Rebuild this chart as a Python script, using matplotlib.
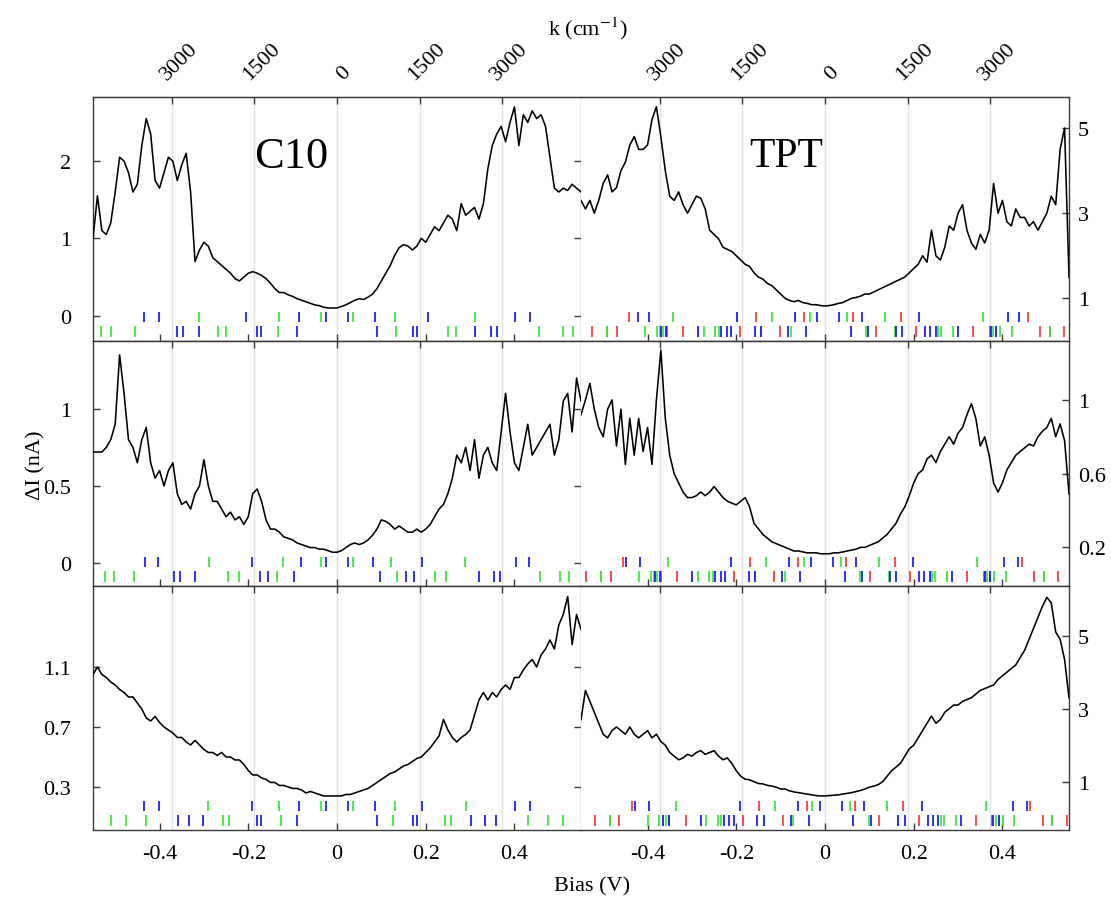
import numpy as np
import matplotlib
matplotlib.use("Agg")
import matplotlib.pyplot as plt
from matplotlib import transforms

plt.rcParams["font.family"] = ["Liberation Serif", "DejaVu Serif"]
plt.rcParams["mathtext.fontset"] = "stix"

# ---------------------------------------------------------------- data
bias = np.round(np.arange(-0.55, 0.5501, 0.01), 2)

c10_top = [
    1.0, 1.55, 1.1, 1.05, 1.2, 1.6, 2.05, 2.0, 1.85, 1.6,
    1.7, 2.2, 2.55, 2.35, 1.75, 1.65, 1.85, 2.05, 2.0, 1.75,
    1.95, 2.1, 1.6, 0.7, 0.85, 0.95, 0.9, 0.75, 0.7, 0.65,
    0.6, 0.55, 0.48, 0.45, 0.5, 0.55, 0.57, 0.55, 0.52, 0.48,
    0.42, 0.35, 0.3, 0.3, 0.27, 0.25, 0.22, 0.2, 0.18, 0.16,
    0.14, 0.13, 0.11, 0.1, 0.1, 0.1, 0.12, 0.14, 0.17, 0.2,
    0.22, 0.21, 0.24, 0.28, 0.35, 0.45, 0.55, 0.65, 0.78, 0.88,
    0.92, 0.9, 0.85, 0.9, 1.0, 0.95, 1.05, 1.15, 1.1, 1.2,
    1.3, 1.25, 1.1, 1.45, 1.3, 1.35, 1.4, 1.25, 1.45, 1.9,
    2.2, 2.35, 2.45, 2.25, 2.5, 2.7, 2.2, 2.6, 2.5, 2.65,
    2.55, 2.6, 2.45, 2.05, 1.65, 1.6, 1.65, 1.62, 1.7, 1.65, 1.6,
]
c10_mid = [
    0.72, 0.72, 0.72, 0.75, 0.8, 0.9, 1.35, 1.1, 0.8, 0.75,
    0.65, 0.8, 0.88, 0.65, 0.55, 0.6, 0.5, 0.6, 0.65, 0.45,
    0.38, 0.4, 0.35, 0.45, 0.5, 0.67, 0.5, 0.4, 0.4, 0.35,
    0.3, 0.33, 0.28, 0.3, 0.25, 0.3, 0.45, 0.48, 0.4, 0.28,
    0.22, 0.22, 0.2, 0.17, 0.16, 0.15, 0.13, 0.12, 0.11, 0.1,
    0.1, 0.09, 0.09, 0.08, 0.07, 0.07, 0.08, 0.1, 0.12, 0.13,
    0.12, 0.13, 0.15, 0.18, 0.22, 0.28, 0.27, 0.25, 0.22, 0.24,
    0.22, 0.2, 0.2, 0.22, 0.2, 0.22, 0.25, 0.3, 0.35, 0.38,
    0.45, 0.55, 0.7, 0.65, 0.75, 0.6, 0.8, 0.55, 0.7, 0.75,
    0.65, 0.6, 0.85, 1.1, 0.85, 0.65, 0.6, 0.75, 0.9, 0.7,
    0.75, 0.8, 0.85, 0.9, 0.7, 0.8, 1.05, 1.1, 0.85, 1.2, 1.05,
]
c10_bot = [
    1.05, 1.1, 1.05, 1.03, 1.0, 0.98, 0.95, 0.93, 0.9, 0.9,
    0.86, 0.82, 0.76, 0.74, 0.77, 0.73, 0.7, 0.68, 0.66, 0.63,
    0.63, 0.6, 0.58, 0.61, 0.58, 0.55, 0.53, 0.53, 0.51, 0.53,
    0.5, 0.5, 0.48, 0.48, 0.45, 0.41, 0.38, 0.38, 0.36, 0.35,
    0.33, 0.33, 0.31, 0.31, 0.3, 0.29, 0.29, 0.28, 0.26, 0.27,
    0.26, 0.25, 0.24, 0.24, 0.24, 0.24, 0.24, 0.25, 0.25, 0.26,
    0.27, 0.28, 0.29, 0.31, 0.33, 0.35, 0.37, 0.39, 0.4, 0.42,
    0.44, 0.45, 0.47, 0.49, 0.5, 0.53, 0.56, 0.6, 0.64, 0.75,
    0.68, 0.63, 0.6, 0.63, 0.65, 0.68, 0.78, 0.88, 0.93, 0.88,
    0.93, 0.9, 0.95, 0.98, 0.95, 1.03, 1.03, 1.08, 1.12, 1.15,
    1.1, 1.18, 1.22, 1.28, 1.22, 1.38, 1.45, 1.57, 1.25, 1.45, 1.35,
]
tpt_top = [
    3.3, 3.1, 3.3, 3.0, 3.3, 3.7, 3.9, 3.5, 3.6, 4.0,
    4.2, 4.6, 4.8, 4.5, 4.5, 4.6, 5.2, 5.5, 4.8, 4.0,
    3.4, 3.3, 3.5, 3.2, 3.0, 3.2, 3.4, 3.35, 3.1, 2.6,
    2.5, 2.4, 2.2, 2.15, 2.1, 2.0, 1.9, 1.8, 1.75, 1.6,
    1.5, 1.45, 1.35, 1.3, 1.2, 1.1, 1.0, 0.95, 0.92, 0.95,
    0.9, 0.88, 0.85, 0.85, 0.83, 0.82, 0.83, 0.85, 0.88, 0.9,
    0.95, 1.0, 1.02, 1.05, 1.1, 1.1, 1.15, 1.2, 1.25, 1.3,
    1.35, 1.4, 1.45, 1.5, 1.6, 1.7, 1.8, 2.0, 1.85, 2.6,
    2.0, 1.9, 2.2, 2.7, 2.6, 3.0, 3.2, 2.6, 2.3, 2.15,
    2.5, 2.3, 2.6, 3.7, 3.0, 3.3, 2.8, 2.7, 3.1, 2.9,
    2.9, 2.7, 2.8, 2.6, 2.8, 3.0, 3.4, 3.2, 4.5, 5.0, 1.5,
]
tpt_mid = [
    0.92, 1.0, 1.09, 0.95, 0.85, 0.8, 0.95, 1.0, 0.75, 0.95,
    0.65, 0.9, 0.7, 0.9, 0.72, 0.85, 0.65, 1.0, 1.27, 0.9,
    0.7, 0.6, 0.55, 0.5, 0.47, 0.47, 0.48, 0.5, 0.48, 0.5,
    0.53, 0.5, 0.47, 0.45, 0.44, 0.43, 0.45, 0.47, 0.42, 0.33,
    0.3, 0.27, 0.25, 0.23, 0.22, 0.21, 0.2, 0.19, 0.18, 0.18,
    0.175, 0.17, 0.17, 0.17, 0.165, 0.165, 0.165, 0.17, 0.17, 0.175,
    0.18, 0.185, 0.19, 0.2, 0.2, 0.21, 0.22, 0.23, 0.25, 0.27,
    0.3, 0.33, 0.38, 0.42, 0.48, 0.55, 0.6, 0.62, 0.68, 0.7,
    0.66, 0.72, 0.76, 0.8, 0.76, 0.82, 0.85, 0.92, 0.98, 0.9,
    0.75, 0.8, 0.7, 0.55, 0.5, 0.55, 0.62, 0.66, 0.7, 0.72,
    0.74, 0.76, 0.75, 0.8, 0.83, 0.85, 0.9, 0.8, 0.87, 0.78, 0.49,
]
tpt_bot = [
    2.7, 3.5, 3.2, 2.9, 2.6, 2.3, 2.2, 2.4, 2.5, 2.4,
    2.3, 2.5, 2.3, 2.2, 2.3, 2.4, 2.2, 2.3, 2.1, 2.0,
    1.8, 1.7, 1.6, 1.65, 1.75, 1.7, 1.8, 1.85, 1.75, 1.8,
    1.85, 1.7, 1.6, 1.65, 1.5, 1.3, 1.15, 1.07, 1.05, 1.0,
    0.95, 0.94, 0.9, 0.88, 0.85, 0.8, 0.8, 0.75, 0.72, 0.7,
    0.68, 0.66, 0.64, 0.62, 0.61, 0.61, 0.62, 0.63, 0.64, 0.66,
    0.68, 0.7, 0.73, 0.76, 0.8, 0.85, 0.88, 0.92, 1.0, 1.15,
    1.3, 1.4, 1.5, 1.7, 1.9, 2.0, 2.2, 2.4, 2.6, 2.8,
    2.6, 2.7, 2.9, 3.0, 3.1, 3.1, 3.2, 3.25, 3.3, 3.4,
    3.5, 3.55, 3.6, 3.65, 3.8, 3.9, 4.0, 4.1, 4.2, 4.4,
    4.6, 4.9, 5.2, 5.5, 5.8, 6.05, 5.9, 5.1, 4.9, 4.35, 3.3,
]

# vibrational mode energies (eV); each rung is drawn at +E and -E
c10_top_up_blue = [0.025, 0.086, 0.205, 0.402, 0.434]
c10_top_up_green = [0.037, 0.131, 0.310]
c10_top_lo_blue = [0.090, 0.172, 0.181, 0.310, 0.347, 0.361]
c10_top_lo_green = [0.132, 0.251, 0.268, 0.455, 0.510, 0.531]

c10_mid_up_blue = [0.025, 0.081, 0.191, 0.403, 0.433]
c10_mid_up_green = [0.037, 0.121, 0.288]
c10_mid_lo_blue = [0.097, 0.155, 0.173, 0.321, 0.354, 0.367]
c10_mid_lo_green = [0.136, 0.220, 0.246, 0.457, 0.502, 0.522]

c10_bot_up_blue = [0.025, 0.086, 0.191, 0.402, 0.434]
c10_bot_up_green = [0.037, 0.131, 0.291]
c10_bot_lo_blue = [0.090, 0.172, 0.181, 0.303, 0.334, 0.359]
c10_bot_lo_green = [0.127, 0.243, 0.258, 0.430, 0.475, 0.510]

tpt_top_up_red = [0.055, 0.163, 0.450]
tpt_top_up_blue = [0.025, 0.075, 0.205, 0.404, 0.429]
tpt_top_up_green = [0.042, 0.127, 0.349]
tpt_up_red = [0.054, 0.163, 0.449]
tpt_up_blue = [0.025, 0.075, 0.205, 0.410, 0.442]
tpt_up_green = [0.042, 0.127, 0.349]
tpt_lo_red = [0.108, 0.198, 0.327, 0.364, 0.477, 0.499, 0.532]
tpt_lo_green = [0.085, 0.151, 0.247, 0.255, 0.281, 0.372, 0.379, 0.387, 0.413, 0.499]
tpt_lo_blue = [0.050, 0.090, 0.152, 0.166, 0.219, 0.229, 0.242, 0.293, 0.366, 0.378]
tpt_zero_shift = [0.0075, -0.006, 0.0134]

# axis ranges and ticks
ylims = [[(-0.327, 2.829), (-0.003, 5.73)],
         [(-0.149, 1.44), (-0.01, 1.32)],
         [(0.013, 1.64), (-0.323, 6.36)]]
yticks = [[([0, 1, 2], ["0", "1", "2"]), ([1, 3, 5], ["1", "3", "5"])],
          [([0, 0.5, 1], ["0", "0.5", "1"]), ([0.2, 0.6, 1], ["0.2", "0.6", "1"])],
          [([0.3, 0.7, 1.1], ["0.3", "0.7", "1.1"]), ([1, 3, 5], ["1", "3", "5"])]]
bias_ticks = [-0.4, -0.2, 0, 0.2, 0.4]
bias_labels = ["-0.4", "-0.2", "0", "0.2", "0.4"]
k_ticks = [-3000, -1500, 0, 1500, 3000]
EV_PER_CM = 1.239842e-4

BLUE = "#1f1fff"
GREEN = "#3ee83e"
RED = "#ff3b3b"
SPINE = "#3a3a3a"

curves = [[c10_top, tpt_top], [c10_mid, tpt_mid], [c10_bot, tpt_bot]]
rungs = [
    [
        {"up": [(c10_top_up_blue, BLUE), (c10_top_up_green, GREEN)],
         "lo": [(c10_top_lo_blue, BLUE), (c10_top_lo_green, GREEN)], "shift": 0.0},
        {"up": [(tpt_top_up_red, RED), (tpt_top_up_blue, BLUE), (tpt_top_up_green, GREEN)],
         "lo": [(tpt_lo_red, RED), (tpt_lo_green, GREEN), (tpt_lo_blue, BLUE)],
         "shift": tpt_zero_shift[0]},
    ],
    [
        {"up": [(c10_mid_up_blue, BLUE), (c10_mid_up_green, GREEN)],
         "lo": [(c10_mid_lo_blue, BLUE), (c10_mid_lo_green, GREEN)], "shift": 0.0},
        {"up": [(tpt_up_red, RED), (tpt_up_blue, BLUE), (tpt_up_green, GREEN)],
         "lo": [(tpt_lo_red, RED), (tpt_lo_green, GREEN), (tpt_lo_blue, BLUE)],
         "shift": tpt_zero_shift[1]},
    ],
    [
        {"up": [(c10_bot_up_blue, BLUE), (c10_bot_up_green, GREEN)],
         "lo": [(c10_bot_lo_blue, BLUE), (c10_bot_lo_green, GREEN)], "shift": 0.0},
        {"up": [(tpt_up_red, RED), (tpt_up_blue, BLUE), (tpt_up_green, GREEN)],
         "lo": [(tpt_lo_red, RED), (tpt_lo_green, GREEN), (tpt_lo_blue, BLUE)],
         "shift": tpt_zero_shift[2]},
    ],
]

# ---------------------------------------------------------------- layout
W, H = 1111, 903
fig = plt.figure(figsize=(W / 100, H / 100), dpi=100)


def px_box(x0, y0, x1, y1):
    return [x0 / W, 1 - y1 / H, (x1 - x0) / W, (y1 - y0) / H]


col_x = [(93, 581), (581, 1069)]
row_y = [(98, 342), (342, 587), (587, 831)]
FS = 16

for r in range(3):
    for c in range(2):
        ax = fig.add_axes(px_box(col_x[c][0], row_y[r][0], col_x[c][1], row_y[r][1]))
        ax.set_xlim(-0.55, 0.55)
        ax.set_ylim(*ylims[r][c])

        for k in k_ticks:
            ax.axvline(k * EV_PER_CM, color="#e2e2e2", lw=1.0, zorder=0)

        ax.plot(bias, curves[r][c], color="black", lw=1.15, zorder=3)

        trans = ax.get_xaxis_transform()
        spec = rungs[r][c]
        for (vals, col) in spec["up"]:
            e = np.asarray(vals)
            pos = np.concatenate([-e, e]) + spec["shift"]
            ax.vlines(pos, 0.076, 0.120, transform=trans, colors=col, lw=1.3, zorder=2)
        for (vals, col) in spec["lo"]:
            e = np.asarray(vals)
            pos = np.concatenate([-e, e]) + spec["shift"]
            ax.vlines(pos, 0.016, 0.060, transform=trans, colors=col, lw=1.3, zorder=2)

        ax.set_xticks(bias_ticks)
        ax.set_xticklabels(bias_labels if r == 2 else [])
        yt, yl = yticks[r][c]
        ax.set_yticks(yt)
        ax.set_yticklabels(yl)
        ax.tick_params(direction="in", length=5, width=1, color=SPINE,
                       labelsize=FS)
        ax.tick_params(axis="x", pad=10)
        if c == 0:
            ax.tick_params(axis="y", left=True, right=True,
                           labelleft=True, labelright=False, pad=16)
        else:
            ax.tick_params(axis="y", left=False, right=True,
                           labelleft=False, labelright=True, pad=6.5)

        for side, sp in ax.spines.items():
            sp.set_color(SPINE)
            sp.set_linewidth(1.0)
        if c == 0:
            ax.spines["right"].set_color("#a8a8a8")
        else:
            ax.spines["left"].set_visible(False)

        sec = ax.secondary_xaxis("top", functions=(lambda v: v / EV_PER_CM,
                                                   lambda k: k * EV_PER_CM))
        sec.set_xticks(k_ticks)
        sec.spines["top"].set_color(SPINE)
        sec.tick_params(direction="in", length=5, width=1, color=SPINE,
                        labelsize=FS, pad=10)
        if r == 0:
            sec.set_xticklabels([str(abs(k)) for k in k_ticks],
                                rotation=45, ha="center", va="bottom")
            shift = transforms.ScaledTranslation(7 / 100, 0, fig.dpi_scale_trans)
            for lab in sec.get_xticklabels():
                lab.set_transform(lab.get_transform() + shift)
        else:
            sec.set_xticklabels([])

fig.text(291 / W, 1 - 157 / H, "C10", fontsize=32, ha="center", va="center")
fig.text(786 / W, 1 - 157 / H, "TPT", fontsize=30, ha="center", va="center")
fig.text(588 / W, 1 - 29 / H, r"k (cm$^{-1}$)", fontsize=FS, ha="center", va="center")
fig.text(592 / W, 1 - 887 / H, "Bias (V)", fontsize=FS, ha="center", va="center")
fig.text(36 / W, 1 - 465 / H, "ΔI (nA)", fontsize=FS, rotation=90,
         ha="center", va="center")

fig.savefig("out.png", dpi=100, facecolor="white")
